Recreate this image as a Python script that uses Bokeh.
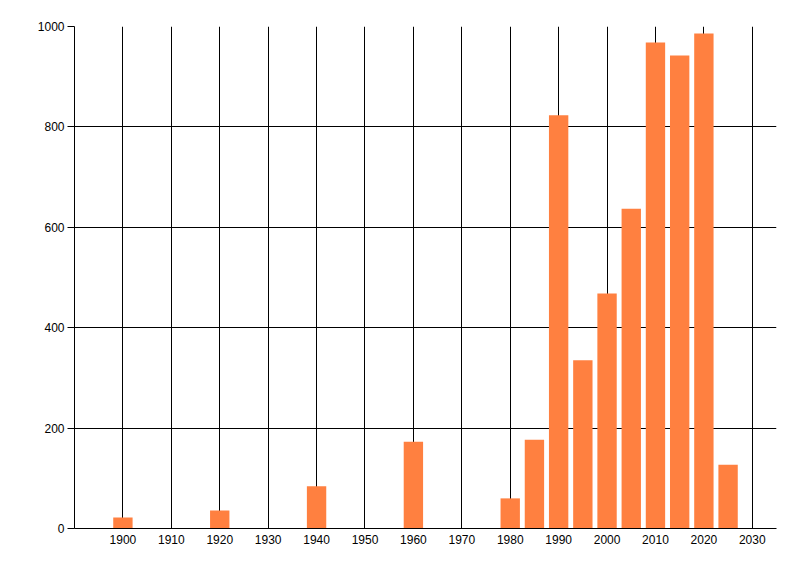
from bokeh.plotting import figure
from bokeh.models import Range1d, FixedTicker
from bokeh.embed import file_html
from bokeh.resources import INLINE

years = [1900, 1920, 1940, 1960, 1980, 1985, 1990, 1995, 2000, 2005, 2010, 2015, 2020, 2025]
values = [22, 36, 84, 173, 60, 177, 823, 335, 468, 637, 968, 942, 986, 127]
x_ticks = [1900, 1910, 1920, 1930, 1940, 1950, 1960, 1970, 1980, 1990, 2000, 2010, 2020, 2030]
y_ticks = [0, 200, 400, 600, 800, 1000]

p = figure(frame_width=702, frame_height=502, output_backend="svg", toolbar_location=None,
           x_range=Range1d(1890, 2035), y_range=Range1d(0, 1000),
           min_border_left=74, min_border_top=26, min_border_right=8, min_border_bottom=30)
p.outline_line_color = None
p.background_fill_color = "white"
p.border_fill_color = "white"

p.vbar(x=years, top=values, bottom=0, width=4, fill_color="#FF8040", line_color=None)

p.xaxis.ticker = FixedTicker(ticks=x_ticks)
p.yaxis.ticker = FixedTicker(ticks=y_ticks)
for ax in (p.xaxis[0], p.yaxis[0]):
    ax.axis_line_color = "black"
    ax.axis_line_width = 1
    ax.minor_tick_line_color = None
    ax.major_label_text_font = "Liberation Sans"
    ax.major_label_text_font_size = "12px"
    ax.major_label_text_color = "black"
    ax.major_tick_line_color = "black"
p.xaxis.major_tick_out = 0
p.xaxis.major_tick_in = 0
p.xaxis.major_label_standoff = 6
p.yaxis.major_tick_out = 7
p.yaxis.major_tick_in = 0
p.yaxis.major_label_standoff = 3

p.xgrid.grid_line_color = "black"
p.ygrid.grid_line_color = "black"
p.xgrid.grid_line_width = 1
p.ygrid.grid_line_width = 1
p.xgrid.ticker = FixedTicker(ticks=x_ticks)
p.ygrid.ticker = FixedTicker(ticks=y_ticks)
p.grid.level = "underlay"

open("out.html", "w").write(file_html(p, INLINE))
